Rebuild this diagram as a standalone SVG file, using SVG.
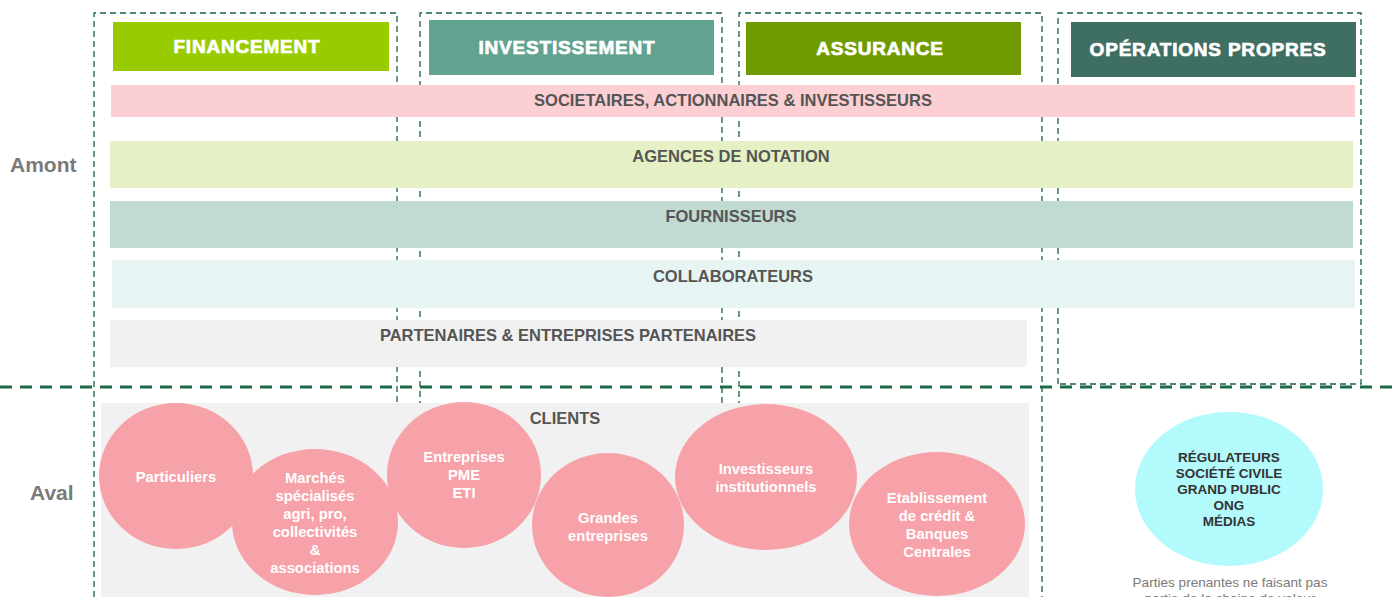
<svg xmlns="http://www.w3.org/2000/svg" width="1392" height="597" viewBox="0 0 1392 597">
<style>
text{font-family:"Liberation Sans",Arial,sans-serif;font-weight:bold;text-anchor:middle}
.hdr{fill:#fff;font-size:19px;letter-spacing:0.8px;stroke:#fff;stroke-width:0.7}
.band{fill:#555;font-size:16.5px}
.side{fill:#7a7a7a;font-size:21px;text-anchor:start}
.cl{fill:#fff;font-size:14.8px}
.reg{fill:#333;font-size:13.5px}
.col{fill:none;stroke:#1b5e45;stroke-width:1.3;stroke-dasharray:6 4}
.pink{fill:#f7a1a9}
.note{font-weight:normal;fill:#7a7a7a;font-size:13.6px}
</style>
<g id="columns">
<path class="col" d="M94 597V13H397V597"/>
<path class="col" d="M420 597V13H722V597"/>
<path class="col" d="M739 597V13H1042V597"/>
<path class="col" d="M1058 384V13H1361V384H1058"/>
</g>
<line id="divider" x1="0" y1="387" x2="1392" y2="387" stroke="#1c6b47" stroke-width="3.2" stroke-dasharray="12 8"/>
<g id="headers">
<g id="h-fin"><rect x="113" y="22" width="276" height="49" fill="#99cc00"/><text class="hdr" x="247" y="53">FINANCEMENT</text></g>
<g id="h-inv"><rect x="429" y="20" width="285" height="55" fill="#62a290"/><text class="hdr" x="567" y="54">INVESTISSEMENT</text></g>
<g id="h-ass"><rect x="746" y="22" width="275" height="53" fill="#709b00"/><text class="hdr" x="880" y="55">ASSURANCE</text></g>
<g id="h-ops"><rect x="1071" y="22" width="285" height="55" fill="#3f6e63"/><text class="hdr" x="1208" y="56">OPÉRATIONS PROPRES</text></g>
</g>
<g id="bands">
<g id="b-soc"><rect x="111" y="85" width="1244" height="32" fill="#fccfd4"/><text class="band" x="733" y="106">SOCIETAIRES, ACTIONNAIRES &amp; INVESTISSEURS</text></g>
<g id="b-agn"><rect x="110" y="141" width="1243" height="47" fill="#e5f1c4"/><text class="band" x="731" y="162">AGENCES DE NOTATION</text></g>
<g id="b-four"><rect x="110" y="201" width="1243" height="47" fill="#c1dad3"/><text class="band" x="731" y="222">FOURNISSEURS</text></g>
<g id="b-col"><rect x="112" y="260" width="1243" height="48" fill="#e6f5f4"/><text class="band" x="733" y="282">COLLABORATEURS</text></g>
<g id="b-part"><rect x="110" y="320" width="917" height="47" fill="#f1f1f1"/><text class="band" x="568" y="341">PARTENAIRES &amp; ENTREPRISES PARTENAIRES</text></g>
</g>
<text class="side" x="10" y="172">Amont</text>
<text class="side" x="30" y="500">Aval</text>
<g id="clients">
<rect x="101" y="403" width="928" height="194" fill="#f1f1f1"/>
<text class="band" x="565" y="424">CLIENTS</text>
</g>
<g id="n-part"><ellipse class="pink" cx="176" cy="476" rx="77" ry="73"/><text class="cl" x="176" y="482">Particuliers</text></g>
<g id="n-marches"><ellipse class="pink" cx="315" cy="522" rx="83" ry="73"/><text class="cl" x="315"><tspan x="315" y="483">Marchés</tspan><tspan x="315" y="501">spécialisés</tspan><tspan x="315" y="519">agri, pro,</tspan><tspan x="315" y="537">collectivités</tspan><tspan x="315" y="555">&amp;</tspan><tspan x="315" y="573">associations</tspan></text></g>
<g id="n-ent"><ellipse class="pink" cx="464" cy="475" rx="77" ry="73"/><text class="cl" x="464"><tspan x="464" y="462">Entreprises</tspan><tspan x="464" y="480">PME</tspan><tspan x="464" y="498">ETI</tspan></text></g>
<g id="n-grandes"><ellipse class="pink" cx="608" cy="525" rx="76" ry="72"/><text class="cl" x="608"><tspan x="608" y="523">Grandes</tspan><tspan x="608" y="541">entreprises</tspan></text></g>
<g id="n-inv"><ellipse class="pink" cx="766" cy="477" rx="91" ry="73"/><text class="cl" x="766"><tspan x="766" y="474">Investisseurs</tspan><tspan x="766" y="492">institutionnels</tspan></text></g>
<g id="n-etab"><ellipse class="pink" cx="937" cy="524" rx="88" ry="72"/><text class="cl" x="937"><tspan x="937" y="503">Etablissement</tspan><tspan x="937" y="521">de crédit &amp;</tspan><tspan x="937" y="539">Banques</tspan><tspan x="937" y="557">Centrales</tspan></text></g>
<g id="n-reg"><ellipse cx="1229" cy="489" rx="94" ry="77" fill="#b3fafd"/><text class="reg" x="1229"><tspan x="1229" y="462">RÉGULATEURS</tspan><tspan x="1229" y="478">SOCIÉTÉ CIVILE</tspan><tspan x="1229" y="494">GRAND PUBLIC</tspan><tspan x="1229" y="510">ONG</tspan><tspan x="1229" y="526">MÉDIAS</tspan></text></g>
<text class="note" x="1230" y="587">Parties prenantes ne faisant pas</text>
<text class="note" x="1230" y="603">partie de la chaine de valeur</text>
</svg>
